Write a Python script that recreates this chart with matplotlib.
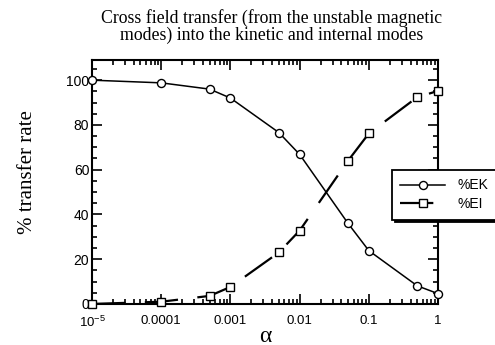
import matplotlib
matplotlib.use("Agg")
import matplotlib.pyplot as plt
import matplotlib.ticker as mticker

alpha = [1e-5, 1e-4, 5e-4, 1e-3, 5e-3, 1e-2, 5e-2, 1e-1, 5e-1, 1.0]
pct_ek = [100, 98.8, 96, 92, 76.6, 66.8, 36, 23.8, 8.1, 4.6]
pct_ei = [0, 1, 3.6, 7.6, 23, 32.8, 64, 76.2, 92.4, 95.2]

xtick_vals = [1e-5, 1e-4, 1e-3, 1e-2, 1e-1, 1]
xtick_labels = [r"$\mathregular{10^{-5}}$", "0.0001", "0.001", "0.01", "0.1", "1"]

serif = "Liberation Serif"
sans = "Liberation Sans"
plt.rcParams["font.family"] = sans
plt.rcParams["lines.scale_dashes"] = False

fig = plt.figure(figsize=(4.95, 3.45), dpi=100)
ax = fig.add_axes([0.186, 0.119, 0.699, 0.707])

ax.plot(alpha, pct_ek, color="black", lw=1.1, marker="o", ms=5.8,
        mfc="white", mec="black", mew=1.0, clip_on=False, label="%EK", zorder=3)
ax.plot(alpha, pct_ei, color="black", lw=1.6, dashes=[24, 14], marker="s", ms=6,
        mfc="white", mec="black", mew=1.0, clip_on=False, label="%EI", zorder=3)

ax.set_xscale("log")
ax.set_xlim(1e-5, 1)
ax.set_ylim(0, 109)

ax.xaxis.set_major_locator(mticker.FixedLocator(xtick_vals))
ax.xaxis.set_major_formatter(mticker.FixedFormatter(xtick_labels))
ax.xaxis.set_minor_locator(mticker.LogLocator(base=10, subs=range(2, 10), numticks=20))
ax.xaxis.set_minor_formatter(mticker.NullFormatter())
ax.yaxis.set_major_locator(mticker.MultipleLocator(20))
ax.yaxis.set_minor_locator(mticker.MultipleLocator(5))

ax.tick_params(which="both", direction="in", top=True, right=True, width=1.2)
ax.tick_params(which="major", length=7)
ax.tick_params(which="minor", length=3.5)
ax.tick_params(axis="x", pad=8, labelsize=9.5)
ax.tick_params(axis="y", pad=2, labelsize=10)
for sp in ax.spines.values():
    sp.set_linewidth(1.5)

fig.text(0.548, 0.947, "Cross field transfer (from the unstable magnetic", ha="center", va="center",
         family=serif, fontsize=12.8)
fig.text(0.548, 0.898, "modes) into the kinetic and internal modes", ha="center", va="center",
         family=serif, fontsize=12.8)
ax.set_ylabel("% transfer rate", family=serif, fontsize=15)
ax.yaxis.set_label_coords(-0.158, 0.54)
ax.set_xlabel("α", family=serif, fontsize=17, labelpad=-3)

leg = ax.legend(loc="upper left", bbox_to_anchor=(0.792, 0.507), bbox_transform=fig.transFigure,
                frameon=True, fancybox=False, shadow={"color": "black", "alpha": 1.0},
                fontsize=10, handlelength=3.2, handletextpad=0.9, borderpad=0.6,
                labelspacing=0.35, borderaxespad=0)
leg.get_frame().set_edgecolor("black")
leg.get_frame().set_linewidth(1.3)
leg.get_frame().set_alpha(1.0)

fig.savefig("out.png", dpi=100)
